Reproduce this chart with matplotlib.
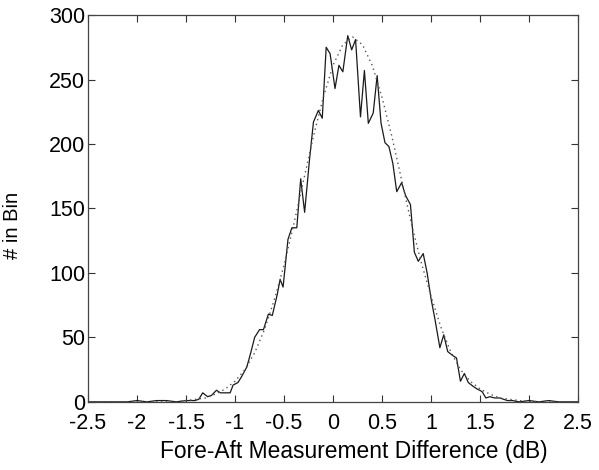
import matplotlib
matplotlib.use("Agg")
import matplotlib.pyplot as plt

plt.rcParams["font.family"] = ["Liberation Sans", "DejaVu Sans"]
plt.rcParams["axes.unicode_minus"] = False

meas_x = [-2.5, -2.2, -2.1, -2.0, -1.9, -1.8, -1.7, -1.6, -1.5, -1.41, -1.37,
          -1.33, -1.28, -1.24, -1.19, -1.15, -1.10, -1.05, -1.02, -0.97, -0.93,
          -0.88, -0.84, -0.80, -0.75, -0.71, -0.66, -0.62, -0.57, -0.54, -0.51,
          -0.46, -0.42, -0.37, -0.33, -0.29, -0.24, -0.20, -0.15, -0.11, -0.07,
          -0.03, 0.02, 0.06, 0.10, 0.15, 0.19, 0.23, 0.28, 0.32, 0.36, 0.41,
          0.45, 0.49, 0.53, 0.57, 0.61, 0.65, 0.70, 0.74, 0.79, 0.83, 0.87,
          0.92, 0.96, 1.00, 1.04, 1.09, 1.13, 1.17, 1.22, 1.26, 1.30, 1.34,
          1.38, 1.43, 1.47, 1.52, 1.56, 1.60, 1.65, 1.70, 1.74, 1.78, 1.83,
          1.9, 2.0, 2.1, 2.2, 2.3, 2.5]
meas_y = [0, 0, 0, 1, 0, 1, 1, 0, 1, 1, 2,
          7, 4, 5, 9, 7, 7, 7, 13, 15, 20,
          27, 38, 50, 56, 56, 68, 67, 83, 95, 89,
          126, 135, 135, 173, 147, 188, 217, 226, 220, 275,
          270, 243, 261, 256, 284, 273, 281, 221, 257, 216, 224,
          253, 216, 201, 198, 185, 163, 170, 160, 153, 116, 109,
          115, 100, 80, 64, 42, 52, 39, 36, 34, 16, 22,
          15, 12, 10, 8, 3, 4, 3, 3, 2, 1, 1,
          0, 1, 0, 1, 0, 0]

# fitted curve (dotted line)
fit_x = [-2.5, -2.0, -1.8, -1.6, -1.5, -1.4, -1.3, -1.2, -1.1, -1.0, -0.9,
         -0.8, -0.7, -0.6, -0.5, -0.4, -0.3, -0.2, -0.1, 0.0, 0.1, 0.2,
         0.3, 0.4, 0.5, 0.6, 0.7, 0.8, 0.9, 1.0, 1.1, 1.2, 1.3, 1.4, 1.5,
         1.6, 1.7, 1.8, 2.0, 2.2, 2.5]
fit_y = [0, 0, 0, 0, 1, 2, 3, 6, 10, 16, 25,
         38, 56, 79, 106, 138, 172, 206, 236, 261, 277, 283,
         277, 261, 236, 206, 172, 138, 108, 82, 58, 39, 25, 16, 10,
         6, 3, 2, 0, 0, 0]

x_ticks = [-2.5, -2, -1.5, -1, -0.5, 0, 0.5, 1, 1.5, 2, 2.5]
x_tick_labels = ["-2.5", "-2", "-1.5", "-1", "-0.5", "0", "0.5", "1", "1.5", "2", "2.5"]
y_ticks = [0, 50, 100, 150, 200, 250, 300]

fig = plt.figure(figsize=(5.99, 4.70), dpi=100)
ax = fig.add_axes([0.147, 0.145, 0.818, 0.823])

ax.plot(meas_x, meas_y, color="#1a1a1a", linewidth=0.9)
ax.plot(fit_x, fit_y, color="#555555", linewidth=1.0, linestyle=(0, (1, 2.5)))

ax.set_xlim(-2.5, 2.5)
ax.set_ylim(0, 300)
ax.set_xticks(x_ticks)
ax.set_xticklabels(x_tick_labels)
ax.set_yticks(y_ticks)
ax.tick_params(direction="in", top=True, right=True, length=5, width=0.8,
               labelsize=15.5, colors="#333333", labelcolor="black")
ax.tick_params(axis="x", pad=8)
ax.tick_params(axis="y", pad=2)
for sp in ax.spines.values():
    sp.set_color("#444444")
    sp.set_linewidth(0.9)

ax.set_xlabel("Fore-Aft Measurement Difference (dB)", fontsize=16.4)
ax.xaxis.set_label_coords(0.543, -0.098)
ax.set_ylabel("# in Bin", fontsize=14.5)
ax.yaxis.set_label_coords(-0.135, 0.455)

fig.savefig("out.png", dpi=100)
